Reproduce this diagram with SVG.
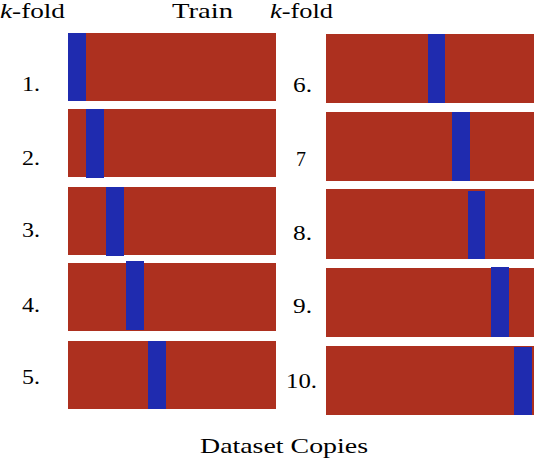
<svg xmlns="http://www.w3.org/2000/svg" width="534" height="462" viewBox="0 0 534 462">
<style>
.bar{fill:#AD301F}
.val{fill:#1F2BAF}
text{font-family:"Liberation Serif","DejaVu Serif",serif;font-size:21px;fill:#000}
.lbl{font-size:20px}
</style>
<rect width="534" height="462" fill="#fff"/>
<g id="headers">
<text x="0" y="18" textLength="65" lengthAdjust="spacingAndGlyphs"><tspan font-style="italic">k</tspan>-fold</text>
<text x="172" y="18" textLength="61" lengthAdjust="spacingAndGlyphs">Train</text>
<text x="270" y="18" textLength="63" lengthAdjust="spacingAndGlyphs"><tspan font-style="italic">k</tspan>-fold</text>
<text x="200" y="453" textLength="168" lengthAdjust="spacingAndGlyphs">Dataset Copies</text>
</g>
<g id="fold1"><rect class="bar" x="68" y="33" width="208" height="68"/><rect class="val" x="68" y="33" width="18" height="68"/><text class="lbl" x="22" y="91" textLength="18" lengthAdjust="spacingAndGlyphs">1.</text></g>
<g id="fold2"><rect class="bar" x="68" y="109" width="208" height="68"/><rect class="val" x="86" y="109" width="18" height="69"/><text class="lbl" x="22" y="165" textLength="18" lengthAdjust="spacingAndGlyphs">2.</text></g>
<g id="fold3"><rect class="bar" x="68" y="187" width="208" height="68"/><rect class="val" x="106" y="187" width="18" height="69"/><text class="lbl" x="22" y="237" textLength="18" lengthAdjust="spacingAndGlyphs">3.</text></g>
<g id="fold4"><rect class="bar" x="68" y="263" width="208" height="68"/><rect class="val" x="126" y="261" width="18" height="69"/><text class="lbl" x="22" y="312" textLength="18" lengthAdjust="spacingAndGlyphs">4.</text></g>
<g id="fold5"><rect class="bar" x="68" y="341" width="208" height="68"/><rect class="val" x="148" y="341" width="18" height="68"/><text class="lbl" x="22" y="384" textLength="18" lengthAdjust="spacingAndGlyphs">5.</text></g>
<g id="fold6"><rect class="bar" x="326" y="34" width="208" height="69"/><rect class="val" x="428" y="34" width="17" height="69"/><text class="lbl" x="293" y="92" textLength="19" lengthAdjust="spacingAndGlyphs">6.</text></g>
<g id="fold7"><rect class="bar" x="326" y="112" width="208" height="69"/><rect class="val" x="452" y="112" width="18" height="69"/><text class="lbl" x="296" y="166">7</text></g>
<g id="fold8"><rect class="bar" x="326" y="189" width="208" height="70"/><rect class="val" x="468" y="191" width="17" height="68"/><text class="lbl" x="293" y="240" textLength="19" lengthAdjust="spacingAndGlyphs">8.</text></g>
<g id="fold9"><rect class="bar" x="326" y="268" width="208" height="69"/><rect class="val" x="491" y="267" width="18" height="70"/><text class="lbl" x="293" y="313" textLength="19" lengthAdjust="spacingAndGlyphs">9.</text></g>
<g id="fold10"><rect class="bar" x="326" y="346" width="208" height="69"/><rect class="val" x="514" y="347" width="18" height="68"/><text class="lbl" x="286" y="388" textLength="31" lengthAdjust="spacingAndGlyphs">10.</text></g>
<g id="connectors"></g>
</svg>
